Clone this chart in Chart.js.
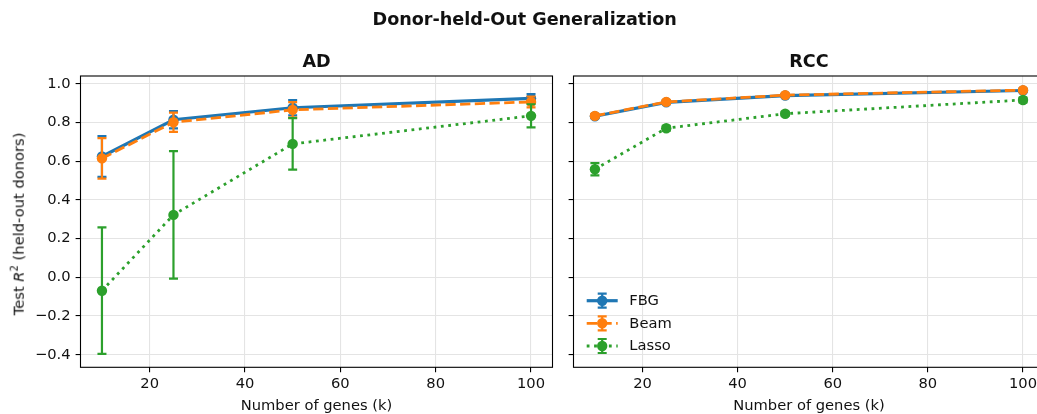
<!DOCTYPE html>
<html>
<head>
<meta charset="utf-8">
<script src="https://cdn.jsdelivr.net/npm/chart.js@4"></script>
<style>
html,body{margin:0;padding:0;background:#fff;overflow:hidden;}
#wrap{position:relative;width:1037px;height:414px;overflow:hidden;font-family:"DejaVu Sans",sans-serif;color:#111;}
canvas{position:absolute;top:0;}
.t{position:absolute;transform:translate(-50%,-50%);white-space:nowrap;line-height:1;}
.bold{font-weight:bold;font-size:17.6px;}
.lab{font-size:14.7px;}
.ylab{position:absolute;font-size:14.7px;white-space:nowrap;line-height:1;transform:translate(-50%,-50%) rotate(-90deg);}
</style>
</head>
<body>
<div id="wrap">
  <canvas id="cAD" width="560" height="414" style="left:0;width:560px;height:414px;"></canvas>
  <canvas id="cRCC" width="500" height="414" style="left:560px;width:500px;height:414px;"></canvas>
  <div class="t bold" style="left:524.7px;top:20px;">Donor-held-Out Generalization</div>
  <div class="t bold" style="left:316.5px;top:61.5px;">AD</div>
  <div class="t bold" style="left:809px;top:61.5px;">RCC</div>
  <div class="t lab" style="left:316.5px;top:405px;">Number of genes (k)</div>
  <div class="t lab" style="left:809px;top:405px;">Number of genes (k)</div>
  <div class="ylab" style="left:18px;top:224px;">Test <i>R</i><sup style="font-size:10px;">2</sup> (held-out donors)</div>
</div>
<script>
// ---- data ----
const geneCounts = [10, 25, 50, 100];
const seriesNames = ['FBG', 'Beam', 'Lasso'];
const xTicks = [20, 40, 60, 80, 100];
const xTickLabels = ['20', '40', '60', '80', '100'];
const yTicks = [-0.4, -0.2, 0.0, 0.2, 0.4, 0.6, 0.8, 1.0];
const yTickLabels = ['\u22120.4', '\u22120.2', '0.0', '0.2', '0.4', '0.6', '0.8', '1.0'];

const adFBG = [0.625, 0.815, 0.877, 0.925];
const adFBGErr = [0.105, 0.045, 0.04, 0.022];
const adBeam = [0.615, 0.802, 0.866, 0.907];
const adBeamErr = [0.105, 0.05, 0.04, 0.028];
const adLasso = [-0.069, 0.323, 0.69, 0.835];
const adLassoErr = [0.327, 0.33, 0.133, 0.06];

const rccFBG = [0.833, 0.905, 0.940, 0.966];
const rccFBGErr = [0.01, 0.01, 0.008, 0.008];
const rccBeam = [0.835, 0.907, 0.942, 0.968];
const rccBeamErr = [0.01, 0.01, 0.008, 0.008];
const rccLasso = [0.559, 0.771, 0.846, 0.917];
const rccLassoErr = [0.032, 0.012, 0.01, 0.012];

// ---- styles ----
const colors = ['#1f77b4', '#ff7f0e', '#2ca02c'];
const widths = [3.2, 2.8, 2.8];
const dashes = [[], [10.3, 4.4], [2.8, 4.6]];
const gridColor = '#e4e4e4';
const textColor = '#111';
const fontSize = 14.7;

Chart.defaults.font.family = '"DejaVu Sans", sans-serif';
Chart.defaults.font.size = fontSize;
Chart.defaults.color = textColor;

function makeDatasets(means, errs) {
  return means.map((m, s) => ({
    label: seriesNames[s],
    data: geneCounts.map((k, i) => ({x: k, y: m[i]})),
    errors: errs[s],
    borderColor: colors[s],
    backgroundColor: colors[s],
    pointBackgroundColor: colors[s],
    pointBorderColor: colors[s],
    pointBorderWidth: 0,
    pointRadius: 5.2,
    borderWidth: widths[s],
    borderDash: dashes[s],
    borderCapStyle: 'butt',
    tension: 0,
    fill: false,
    order: 3 - s
  }));
}

const errorBarPlugin = {
  id: 'errorBars',
  beforeDatasetDraw(chart, args) {
    const ds = chart.data.datasets[args.index];
    if (!ds.errors) return;
    const ctx = chart.ctx, xs = chart.scales.x, ys = chart.scales.y;
    ctx.save();
    ctx.strokeStyle = ds.borderColor;
    ctx.lineWidth = 2.2;
    ctx.setLineDash([]);
    ctx.lineCap = 'butt';
    ds.data.forEach((p, i) => {
      const e = ds.errors[i];
      const px = xs.getPixelForValue(p.x);
      const y1 = ys.getPixelForValue(p.y + e);
      const y2 = ys.getPixelForValue(p.y - e);
      ctx.beginPath();
      ctx.moveTo(px, y1); ctx.lineTo(px, y2);
      ctx.moveTo(px - 4.5, y1); ctx.lineTo(px + 4.5, y1);
      ctx.moveTo(px - 4.5, y2); ctx.lineTo(px + 4.5, y2);
      ctx.stroke();
    });
    ctx.restore();
  }
};

const spinesPlugin = {
  id: 'spines',
  afterDatasetsDraw(chart) {
    const a = chart.chartArea, ctx = chart.ctx;
    ctx.save();
    ctx.strokeStyle = '#000';
    ctx.lineWidth = 1.1;
    ctx.setLineDash([]);
    ctx.strokeRect(a.left, a.top, a.right - a.left, a.bottom - a.top);
    ctx.restore();
  }
};

const legendPlugin = {
  id: 'innerLegend',
  afterDraw(chart, args, opts) {
    if (!opts || !opts.show) return;
    const a = chart.chartArea, ctx = chart.ctx;
    const rowsFromBottom = [66.6, 44.0, 21.3];
    ctx.save();
    seriesNames.forEach((name, s) => {
      const y = a.bottom - rowsFromBottom[s];
      const x0 = a.left + 13.2, x1 = a.left + 44.2, xc = (x0 + x1) / 2;
      ctx.strokeStyle = colors[s];
      ctx.fillStyle = colors[s];
      ctx.lineWidth = widths[s];
      ctx.setLineDash(dashes[s]);
      ctx.lineCap = 'butt';
      ctx.beginPath(); ctx.moveTo(x0, y); ctx.lineTo(x1, y); ctx.stroke();
      ctx.setLineDash([]);
      ctx.lineWidth = 2.2;
      ctx.beginPath();
      ctx.moveTo(xc, y - 7); ctx.lineTo(xc, y + 7);
      ctx.moveTo(xc - 4.5, y - 7); ctx.lineTo(xc + 4.5, y - 7);
      ctx.moveTo(xc - 4.5, y + 7); ctx.lineTo(xc + 4.5, y + 7);
      ctx.stroke();
      ctx.beginPath(); ctx.arc(xc, y, 5.2, 0, Math.PI * 2); ctx.fill();
      ctx.fillStyle = textColor;
      ctx.font = fontSize + 'px "DejaVu Sans", sans-serif';
      ctx.textBaseline = 'middle';
      ctx.textAlign = 'left';
      ctx.fillText(name, a.left + 55.8, y + 0.5);
    });
    ctx.restore();
  }
};

function makeChart(id, means, errs, yLabels, yWidth, rightPad, showLegend) {
  return new Chart(document.getElementById(id), {
    type: 'line',
    data: { datasets: makeDatasets(means, errs) },
    plugins: [errorBarPlugin, spinesPlugin, legendPlugin],
    options: {
      responsive: false,
      maintainAspectRatio: false,
      animation: false,
      events: [],
      layout: { padding: { top: 76, left: 0, right: rightPad, bottom: 0 } },
      plugins: {
        legend: { display: false },
        tooltip: { enabled: false },
        title: { display: false },
        innerLegend: { show: showLegend }
      },
      scales: {
        x: {
          type: 'linear', min: 5.5, max: 104.5,
          afterBuildTicks: s => { s.ticks = xTicks.map(v => ({value: v})); },
          ticks: { callback: (v, i) => xTickLabels[i], padding: 3.5, maxRotation: 0, autoSkip: false, color: textColor },
          grid: { color: gridColor, lineWidth: 1.1, drawTicks: true, tickLength: 4.9, tickColor: '#000', tickWidth: 1.1 },
          border: { display: false },
          afterFit: s => { s.height = 46.7; }
        },
        y: {
          type: 'linear', min: -0.465, max: 1.041,
          afterBuildTicks: s => { s.ticks = yTicks.map(v => ({value: v})); },
          ticks: { display: yLabels, callback: (v, i) => yTickLabels[i], padding: 5, color: textColor },
          grid: { color: gridColor, lineWidth: 1.1, drawTicks: true, tickLength: 4.9, tickColor: '#000', tickWidth: 1.1 },
          border: { display: false },
          afterFit: s => { s.width = yWidth; }
        }
      }
    }
  });
}

makeChart('cAD', [adFBG, adBeam, adLasso], [adFBGErr, adBeamErr, adLassoErr], true, 80.5, 7.5, false);
makeChart('cRCC', [rccFBG, rccBeam, rccLasso], [rccFBGErr, rccBeamErr, rccLassoErr], false, 13.5, 15.6, true);
</script>
</body>
</html>
